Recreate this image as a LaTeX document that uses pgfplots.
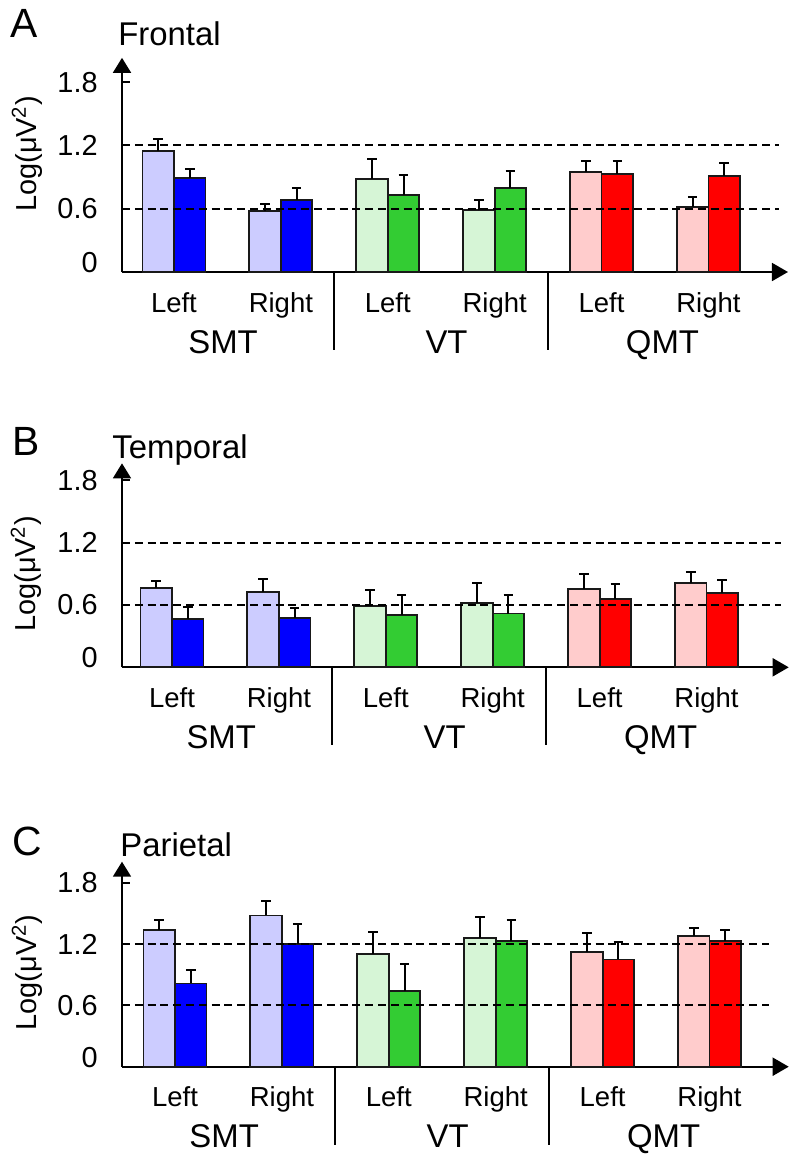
\documentclass[border=0pt]{standalone}
\usepackage{fontspec}
\setmainfont{Liberation Sans}
\usepackage{pgfplots}
\pgfplotsset{compat=1.18}
\usetikzlibrary{arrows.meta}
\definecolor{lblue}{HTML}{CCCCFF}
\definecolor{dblue}{HTML}{0000FF}
\definecolor{lgreen}{HTML}{D6F5D6}
\definecolor{dgreen}{HTML}{33CC33}
\definecolor{lred}{HTML}{FFCCCC}
\definecolor{dred}{HTML}{FF0000}
\pgfplotsset{
  panel/.style={
    x=53.45bp, anchor=south west, clip=false, enlargelimits=false,
    ymin=0,
    axis x line=bottom, axis y line=left,
    x axis line style={line width=0.9bp, -{Triangle[length=8bp,width=9bp]}},
    y axis line style={line width=0.9bp, -{Triangle[length=7.5bp,width=9bp]}},
    ytick={0,0.6,1.2,1.8},
    yticklabels={\raisebox{9.5bp}{0},0.6,1.2,1.8},
    yticklabel style={font=\fontsize{14.5}{14.5}\selectfont, inner sep=0pt, anchor=east, xshift=-12bp},
    tick align=inside, major tick length=4bp,
    ytick style={line width=0.9bp, black},
    xtick={0,1,2,3,4,5},
    xticklabels={Left,Right,Left,Right,Left,Right},
    xticklabel style={font=\fontsize{13.8}{13.8}\selectfont, anchor=base, yshift=-20bp},
    xtick style={draw=none},
  },
  bars/.style={ybar, bar width=0.295, bar shift=0pt, draw=black!90, line width=0.9bp, fill=#1,
    error bars/.cd, y dir=plus, y explicit, error mark=|,
    error bar style={line width=1bp, black},
    error mark options={line width=1bp, black, mark size=2.4bp}},
  refline/.style={black, line width=1bp, dash pattern=on 4bp off 2.4bp},
}
\newcommand{\grouplabels}{%
  \draw[line width=0.9bp] (axis cs:1.5,0) -- ([yshift=-39bp]axis cs:1.5,0);
  \draw[line width=0.9bp] (axis cs:3.5,0) -- ([yshift=-39bp]axis cs:3.5,0);
  \node[font=\fontsize{16.5}{16.5}\selectfont, anchor=base, yshift=-40.5bp] at (axis cs:0.46,0) {SMT};
  \node[font=\fontsize{16.5}{16.5}\selectfont, anchor=base, yshift=-40.5bp] at (axis cs:2.55,0) {VT};
  \node[font=\fontsize{16.5}{16.5}\selectfont, anchor=base, yshift=-40.5bp] at (axis cs:4.57,0) {QMT};
}
\begin{document}
\begin{tikzpicture}
\useasboundingbox (0,0) rectangle (398bp,-579bp);
% ---------- Panel A ----------
\node[font=\fontsize{20.5}{20.5}\selectfont, anchor=base west, inner sep=0pt] at (5bp,-18.5bp) {A};
\node[font=\fontsize{16.5}{16.5}\selectfont, anchor=base west, inner sep=0pt] at (59bp,-22.5bp) {Frontal};
\node[font=\fontsize{14.5}{14.5}\selectfont, rotate=90, inner sep=0pt] at (13.5bp,-77bp) {Log(μV\textsuperscript{2})};
\begin{axis}[panel, at={(61bp,-136bp)}, y=52.75bp, xmin=-0.486, xmax=5.744, ymax=2.03]
\addplot[bars=lblue] coordinates {(-0.1475,1.147) +- (0,0.111) (0.8525,0.578) +- (0,0.067)};
\addplot[bars=dblue] coordinates {(0.1475,0.894) +- (0,0.082) (1.1475,0.685) +- (0,0.114)};
\addplot[bars=lgreen] coordinates {(1.8525,0.884) +- (0,0.187) (2.8525,0.585) +- (0,0.097)};
\addplot[bars=dgreen] coordinates {(2.1475,0.727) +- (0,0.189) (3.1475,0.793) +- (0,0.164)};
\addplot[bars=lred] coordinates {(3.8525,0.948) +- (0,0.104) (4.8525,0.619) +- (0,0.092)};
\addplot[bars=dred] coordinates {(4.1475,0.929) +- (0,0.126) (5.1475,0.910) +- (0,0.126)};
\addplot[refline] coordinates {(-0.486,0.6) (5.66,0.6)};
\addplot[refline] coordinates {(-0.486,1.2) (5.66,1.2)};
\grouplabels
\end{axis}
% ---------- Panel B ----------
\node[font=\fontsize{20.5}{20.5}\selectfont, anchor=base west, inner sep=0pt] at (6bp,-227.5bp) {B};
\node[font=\fontsize{16.5}{16.5}\selectfont, anchor=base west, inner sep=0pt] at (56bp,-229bp) {Temporal};
\node[font=\fontsize{14.5}{14.5}\selectfont, rotate=90, inner sep=0pt] at (13bp,-287bp) {Log(μV\textsuperscript{2})};
\begin{axis}[panel, at={(61bp,-333.65bp)}, y=51.95bp, xmin=-0.468, xmax=5.769, ymax=1.963]
\addplot[bars=lblue] coordinates {(-0.1475,0.764) +- (0,0.067) (0.8525,0.728) +- (0,0.119)};
\addplot[bars=dblue] coordinates {(0.1475,0.468) +- (0,0.116) (1.1475,0.475) +- (0,0.099)};
\addplot[bars=lgreen] coordinates {(1.8525,0.587) +- (0,0.157) (2.8525,0.616) +- (0,0.192)};
\addplot[bars=dgreen] coordinates {(2.1475,0.507) +- (0,0.189) (3.1475,0.517) +- (0,0.182)};
\addplot[bars=lred] coordinates {(3.8525,0.757) +- (0,0.141) (4.8525,0.808) +- (0,0.110)};
\addplot[bars=dred] coordinates {(4.1475,0.654) +- (0,0.145) (5.1475,0.712) +- (0,0.125)};
\addplot[refline] coordinates {(-0.468,0.6) (5.70,0.6)};
\addplot[refline] coordinates {(-0.468,1.2) (5.70,1.2)};
\grouplabels
\end{axis}
% ---------- Panel C ----------
\node[font=\fontsize{20.5}{20.5}\selectfont, anchor=base west, inner sep=0pt] at (6bp,-427.5bp) {C};
\node[font=\fontsize{16.5}{16.5}\selectfont, anchor=base west, inner sep=0pt] at (60bp,-428.3bp) {Parietal};
\node[font=\fontsize{14.5}{14.5}\selectfont, rotate=90, inner sep=0pt] at (13.5bp,-486.3bp) {Log(μV\textsuperscript{2})};
\begin{axis}[panel, at={(61bp,-533.35bp)}, y=51.1bp, xmin=-0.496, xmax=5.741, ymax=2.006]
\addplot[bars=lblue] coordinates {(-0.1475,1.337) +- (0,0.094) (0.8525,1.480) +- (0,0.144)};
\addplot[bars=dblue] coordinates {(0.1475,0.815) +- (0,0.131) (1.1475,1.203) +- (0,0.193)};
\addplot[bars=lgreen] coordinates {(1.8525,1.105) +- (0,0.216) (2.8525,1.262) +- (0,0.199)};
\addplot[bars=dgreen] coordinates {(2.1475,0.740) +- (0,0.264) (3.1475,1.229) +- (0,0.206)};
\addplot[bars=lred] coordinates {(3.8525,1.125) +- (0,0.186) (4.8525,1.278) +- (0,0.075)};
\addplot[bars=dred] coordinates {(4.1475,1.050) +- (0,0.166) (5.1475,1.229) +- (0,0.111)};
\addplot[refline] coordinates {(-0.496,0.6) (5.56,0.6)};
\addplot[refline] coordinates {(-0.496,1.2) (5.56,1.2)};
\grouplabels
\end{axis}
\end{tikzpicture}
\end{document}
